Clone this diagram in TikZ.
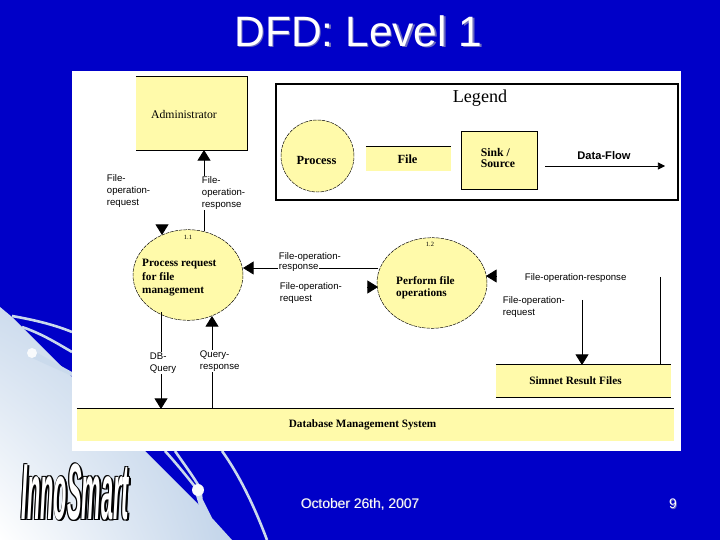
\documentclass[tikz,border=0pt]{standalone}
\usepackage{fontspec}
\setmainfont{Liberation Serif}
\setsansfont{Liberation Sans}
\usetikzlibrary{arrows.meta,positioning,shadings,shapes.geometric}
\definecolor{slideblue}{RGB}{0,0,200}
\definecolor{boxyellow}{RGB}{255,250,170}
\definecolor{swoosh}{RGB}{184,205,230}
\definecolor{titleshade}{RGB}{110,110,190}
\pgfmathsetmacro{\procwidth}{3.3}
\pgfmathsetmacro{\procheight}{2.72}
\tikzset{
    process/.style={ellipse, draw, fill=boxyellow, dash pattern=on 3pt off 0.8pt, minimum width=\procwidth cm, minimum height=\procheight cm, inner sep=0pt},
    yellowbox/.style={rectangle, fill=boxyellow, inner sep=0pt},
    boxname/.style={font=\rmfamily\bfseries\fontsize{9.6}{10.6}\selectfont, align=left, inner sep=0pt},
    flowlabel/.style={font=\sffamily\fontsize{8.2}{10.2}\selectfont, align=left, fill=white, inner sep=0.6pt},
    flow/.style={-{Triangle[length=9pt,width=11pt]}, line width=0.6pt},
    plainflow/.style={line width=0.6pt},
    streak/.style={draw=swoosh!75!white, line width=2.2pt},
    slidetext/.style={font=\sffamily\fontsize{11.8}{13}\selectfont, text=white, inner sep=0pt},
    titletext/.style={font=\sffamily\fontsize{36.3}{36}\selectfont, text=white, inner sep=0pt},
    logotext/.style={font=\sffamily\bfseries\itshape\fontsize{20}{20}\selectfont, xscale=0.93, yscale=3.4, transform shape, inner sep=0pt}
}
\begin{document}
\begin{tikzpicture}[x=0.03cm, y=-0.03cm]
    \useasboundingbox (0,0) rectangle (720,540);
    % slide background
    \fill[slideblue] (0,0) rectangle (720,540);
    \shade[lower left=white, upper right=swoosh, lower right=swoosh!85!white, upper left=swoosh!70!white]
        (0,307) -- (12,317) -- (22,327) -- (72,377) -- (145,451) -- (199,505) -- (203,500) -- (212,518) -- (232,540) -- (0,540) -- cycle;
    % streaks on the blue
    \draw[streak] (12,316) .. controls (35,320) and (55,325) .. (72,332);
    \draw[streak] (22,327) .. controls (40,333) and (55,342) .. (72,352);
    \fill[swoosh!75!white] (32,350) -- (72,372) -- (72,376) -- (32,358) -- cycle;
    \fill[white!90!swoosh] (32,353) circle[radius=5];
    \draw[streak] (165,451) .. controls (175,462) and (185,474) .. (196,488);
    \draw[streak] (175,451) .. controls (184,464) and (193,476) .. (200,488);
    \draw[streak] (222,451) .. controls (240,476) and (255,508) .. (267,540);
    \fill[swoosh!75!white] (195,492) -- (202,492) -- (203,502) -- (199,506) -- cycle;
    \fill[white!90!swoosh] (198,490) circle[radius=6];
    % white panel
    \fill[white] (72,71) rectangle (681,451);
    % title and footer
    \node[titletext, text=titleshade] (title_shadow) at (360,32.5) {DFD: Level 1};
    \node[titletext] (title) at (358.5,31) {DFD: Level 1};
    \node[slidetext, text=titleshade] (date_shadow) at (360.7,504.7) {October 26th, 2007};
    \node[slidetext] (date) at (360,504) {October 26th, 2007};
    \node[slidetext, text=titleshade] (page_shadow) at (673.7,504.7) {9};
    \node[slidetext] (page) at (673,504) {9};
    % logo
    \foreach \dx/\dy [count=\i] in {-0.7/-0.7, 0.7/-0.7, -0.7/0.7, 0.7/0.7, 1.5/1.5, 2/1.5} {
        \node[logotext, text=black] (logo_back_\i) at (75+\dx,492+\dy) {InnoSmart};
    }
    \node[logotext, text=white] (logo) at (75,492) {InnoSmart};
    % legend
    \draw[line width=1.5pt] (276,84) rectangle (678,200);
    \node[font=\rmfamily\fontsize{15.5}{15.5}\selectfont, inner sep=0pt] (legend) at (480,98) {Legend};
    \node[process, minimum width=2.19cm, minimum height=2.16cm] (legend_process) at (317.5,156) {};
    \node[boxname, font=\rmfamily\bfseries\fontsize{10.6}{11}\selectfont] (legend_process_name) at (316.5,160) {Process};
    \node[yellowbox, minimum width=2.55cm, minimum height=0.72cm] (legend_file) at (408.5,159) {};
    \draw[line width=0.6pt] (legend_file.north west) -- (legend_file.north east);
    \node[boxname, font=\rmfamily\bfseries\fontsize{10.6}{11}\selectfont] (legend_file_name) at (407.5,159) {File};
    \node[yellowbox, draw, minimum width=2.28cm, minimum height=1.74cm] (legend_sink) at (499,160) {};
    \node[boxname, font=\rmfamily\bfseries\fontsize{10}{9.5}\selectfont] (legend_sink_name) at (498,158) {Sink /\\Source};
    \coordinate (legend_flow_in) at (545,166);
    \coordinate[right=3.6cm of legend_flow_in] (legend_flow_out);
    \draw[-{Triangle[length=6pt,width=6pt]}, line width=0.6pt] (legend_flow_in) -- (legend_flow_out);
    \node[font=\sffamily\bfseries\fontsize{9.5}{9.5}\selectfont, inner sep=0pt] (legend_flow) at (604,156) {Data-Flow};
    % external entity, processes and files
    \node[yellowbox, minimum width=3.33cm, minimum height=2.19cm] (admin) at (191.5,113.5) {};
    \draw[line width=0.6pt] (admin.north west) -- (admin.north east) -- (admin.south east) -- (admin.south west);
    \node[boxname, font=\rmfamily\fontsize{10}{10}\selectfont] (admin_name) at (184,114) {Administrator};
    \node[process] (request) at (188,275) {};
    \node[boxname, anchor=west, font=\rmfamily\bfseries\fontsize{9.6}{11.5}\selectfont] (request_name) at (142,278) {Process request\\for file\\management};
    \node[font=\rmfamily\fontsize{5.5}{6}\selectfont, inner sep=0pt] (request_id) at (188,237) {1.1};
    \node[process] (perform) at (432,283) {};
    \node[boxname, anchor=west, font=\rmfamily\bfseries\fontsize{9.6}{10}\selectfont] (perform_name) at (396,288) {Perform file\\operations};
    \node[font=\rmfamily\fontsize{5.5}{6}\selectfont, inner sep=0pt] (perform_id) at (430,244) {1.2};
    \node[yellowbox, minimum width=5.25cm, minimum height=0.96cm] (simnet) at (583.5,381) {};
    \draw[line width=0.6pt] (simnet.north west) -- (simnet.north east);
    \draw[line width=0.6pt] (simnet.south west) -- (simnet.south east);
    \node[boxname] (simnet_name) at (575.5,381) {Simnet Result Files};
    \node[yellowbox, minimum width=17.91cm, minimum height=0.96cm] (dbms) at (375.5,425) {};
    \draw[line width=0.6pt] (dbms.north west) -- (dbms.north east);
    \node[boxname] (dbms_name) at (362.5,425) {Database Management System};
    % free ends of the flows
    \coordinate (admin_foot) at (204,150);
    \coordinate (request_top) at (204,231);
    \coordinate (request_left_tip) at (162,235);
    \coordinate[above=0.3cm of request_left_tip] (request_left_tail);
    \coordinate (request_east) at (243,268);
    \coordinate (perform_west) at (378,268);
    \coordinate (perform_in_tip) at (378,287);
    \coordinate[left=0.32cm of perform_in_tip] (perform_in_tail);
    \coordinate (perform_east) at (486,276);
    \coordinate[right=0.32cm of perform_east] (perform_east_tail);
    \coordinate (simnet_req_top) at (582,300);
    \coordinate (simnet_req_tip) at (582,365);
    \coordinate (simnet_resp_top) at (660,277);
    \coordinate (simnet_resp_foot) at (660,365);
    \coordinate (query_top) at (161,312);
    \coordinate (query_tip) at (161,409);
    \coordinate (answer_foot) at (212,409);
    \coordinate (answer_tip) at (212,316);
    % draw flows
    \draw[flow] (request_top) -- (admin_foot);
    \draw[flow] (request_left_tail) -- (request_left_tip);
    \draw[flow] (perform_west) -- (request_east);
    \draw[flow] (perform_in_tail) -- (perform_in_tip);
    \draw[flow] (perform_east_tail) -- (perform_east);
    \draw[flow] (simnet_req_top) -- (simnet_req_tip);
    \draw[plainflow] (simnet_resp_top) -- (simnet_resp_foot);
    \draw[flow] (query_top) -- (query_tip);
    \draw[flow] (answer_foot) -- (answer_tip);
    % add labels
    \node[flowlabel, anchor=north west] (lab_admin_req) at (106,174) {File-\\operation-\\request};
    \node[flowlabel, anchor=north west] (lab_admin_resp) at (201,176) {File-\\operation-\\response};
    \node[flowlabel, anchor=west] (lab_mid_resp_top) at (278,257) {File-operation-};
    \node[flowlabel, anchor=west] (lab_mid_resp_low) at (278,268) {response};
    \node[flowlabel, anchor=north west] (lab_mid_req) at (279,282) {File-operation-\\request};
    \node[flowlabel, anchor=west] (lab_simnet_resp) at (524,278) {File-operation-response};
    \node[flowlabel, anchor=north west] (lab_simnet_req) at (502,296) {File-operation-\\request};
    \node[flowlabel, anchor=north west] (lab_query) at (149,352) {DB-\\Query};
    \node[flowlabel, anchor=north west] (lab_answer) at (199,350) {Query-\\response};
\end{tikzpicture}
\end{document}
